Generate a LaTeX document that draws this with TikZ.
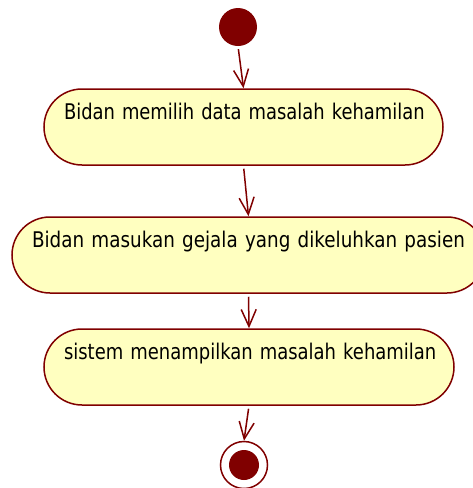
\documentclass[tikz,border=0pt]{standalone}
\usepackage{fontspec}
\setmainfont[FakeStretch=0.85]{DejaVu Sans}
\usetikzlibrary{arrows.meta,calc}
\definecolor{umlred}{RGB}{128,0,0}
\definecolor{umlfill}{RGB}{255,255,192}
\tikzset{
  actbox/.style={draw=umlred, fill=umlfill, line width=1.5pt, rectangle,
    rounded corners=38pt, inner xsep=20pt, inner ysep=0pt, align=left,
    text height=30pt, text depth=46pt, font=\fontsize{21.6}{24}\selectfont},
  flow/.style={draw=umlred, line width=1.5pt, shorten <=3pt,
    -{Straight Barb[length=17pt,width=15pt]}},
}
\begin{document}
\begin{tikzpicture}[x=1pt,y=-1pt]
\useasboundingbox (0,0) rectangle (473,488);
\fill[white] (0,0) rectangle (473,488);
\node[circle, fill=umlred, minimum size=38pt, inner sep=0pt] (s) at (238,27) {};
\node[actbox, text width=359pt] (b1) at (243.5,127) {\scalebox{0.976}[1]{Bidan memilih data masalah kehamilan}};
\node[actbox, text width=433pt] (b2) at (248.5,255) {\mbox{Bidan masukan gejala yang dikeluhkan pasien}};
\node[actbox, text width=370pt] (b3) at (249,367) {\scalebox{0.979}[1]{sistem menampilkan masalah kehamilan}};
\node[circle, draw=umlred, fill=white, line width=1.5pt, minimum size=47pt, inner sep=0pt] (e) at (244,465) {};
\node[circle, fill=umlred, minimum size=30pt, inner sep=0pt] (ei) at (e.center) {};
\draw[flow] (s.south) -- (b1.north);
\draw[flow] (b1.south) -- (b2.north);
\draw[flow] (b2.south) -- (b3.north);
\draw[flow] (b3.south) -- (e.north);
\end{tikzpicture}
\end{document}
